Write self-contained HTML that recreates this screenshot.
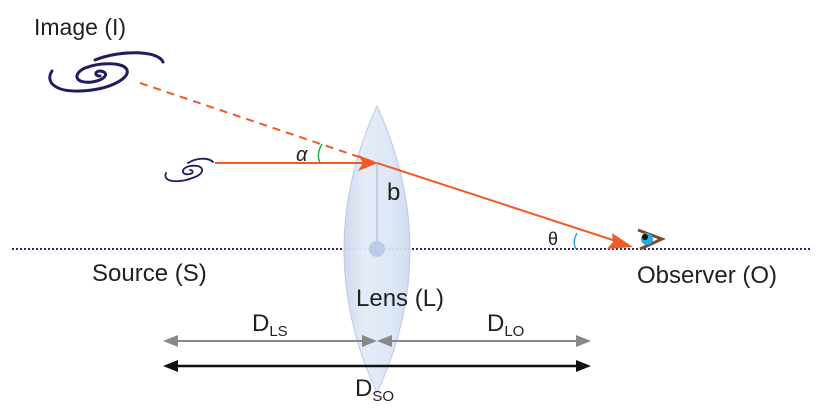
<!DOCTYPE html>
<html><head><meta charset="utf-8"><style>
html,body{margin:0;padding:0;background:#fff;}
svg{display:block}
text{font-family:"Liberation Sans",Arial,sans-serif;fill:#231f20}
</style></head><body>
<svg width="821" height="410" viewBox="0 0 821 410" xmlns="http://www.w3.org/2000/svg">
<defs>
<linearGradient id="lg" x1="0" x2="1" y1="0" y2="0">
<stop offset="0" stop-color="#cdd8ee"/><stop offset="0.3" stop-color="#e4ebf7"/><stop offset="0.7" stop-color="#dce6f6"/><stop offset="1" stop-color="#cfdcf0"/>
</linearGradient>
</defs>
<!-- axis -->
<line x1="12" y1="249" x2="810" y2="249" stroke="#2b2a6b" stroke-width="2" stroke-dasharray="2,2"/>
<!-- lens -->
<path d="M377,106 Q311,250 377,393 Q443,250 377,106Z" fill="url(#lg)" stroke="#b9c7e3" stroke-width="1" opacity="0.95"/>
<line x1="377" y1="164" x2="377" y2="248" stroke="#b5c2e0" stroke-width="1.5"/>
<circle cx="377" cy="249" r="8" fill="#bccbe8"/>
<!-- rays -->
<line x1="140" y1="83" x2="377" y2="163" stroke="#f15a29" stroke-width="2" stroke-dasharray="8,6"/>
<line x1="215" y1="163" x2="376" y2="163" stroke="#f15a29" stroke-width="2"/>
<path d="M358,155 L378,163 L358,171 L363,163z" fill="#f15a29"/>
<line x1="377" y1="163" x2="625" y2="244" stroke="#f15a29" stroke-width="2"/>
<path d="M612,233 L633,247 L607,249 L613,242z" fill="#f15a29"/>
<!-- angle arcs -->
<path d="M322,144 Q316,154 320,163" fill="none" stroke="#21b24b" stroke-width="1.5"/>
<path d="M577,233 Q572,242 576,249" fill="none" stroke="#29a9e0" stroke-width="1.5"/>
<!-- galaxies -->
<g fill="none" stroke="#1f1d5e" stroke-width="3" stroke-linecap="round">
<path d="M52,71 C45,82 55,92 80,91 C110,90 130,78 127,70 C124,62 100,62 85,68 C72,74 75,84 92,82 C106,80 110,72 100,71 C95,71 94,76 100,76"/>
<path d="M163,62 C158,50 120,50 95,60"/>
</g>
<g fill="none" stroke="#1f1d5e" stroke-width="1.8" stroke-linecap="round">
<path d="M166,173 C162,182 178,184 195,177 C207,172 203,164 190,166 C180,168 181,176 190,174 C194,173 193,170 190,170"/>
<path d="M213,162 C208,157 196,158 188,163"/>
</g>
<!-- eye -->
<path d="M638,230 L662,239 L640,249" fill="none" stroke="#7b4b2a" stroke-width="3"/>
<circle cx="647" cy="239" r="6" fill="#29a9e0"/><circle cx="645" cy="237" r="3" fill="#111"/>
<!-- distance arrows -->
<g stroke="#888" stroke-width="2"><line x1="170" y1="341" x2="372" y2="341"/><line x1="382" y1="341" x2="585" y2="341"/></g>
<g fill="#888"><path d="M163,341 L178,335 L178,347z"/><path d="M377,341 L362,335 L362,347z"/><path d="M377,341 L392,335 L392,347z"/><path d="M591,341 L576,335 L576,347z"/></g>
<line x1="170" y1="366" x2="583" y2="366" stroke="#111" stroke-width="2.5"/>
<path d="M163,366 L178,360 L178,372z" fill="#111"/><path d="M591,366 L576,360 L576,372z" fill="#111"/>
<!-- labels -->
<text x="34" y="35" font-size="23">Image (I)</text>
<text x="92" y="281" font-size="24">Source (S)</text>
<text x="637" y="283" font-size="24">Observer (O)</text>
<text x="356" y="306" font-size="24">Lens (L)</text>
<text x="387" y="200" font-size="24">b</text>
<text x="296" y="161" font-size="20" font-style="italic">α</text>
<text x="548" y="245" font-size="18">θ</text>
<text x="252" y="331" font-size="24">D<tspan font-size="15" dy="5">LS</tspan></text>
<text x="487" y="331" font-size="24">D<tspan font-size="15" dy="5">LO</tspan></text>
<text x="355" y="396" font-size="24">D<tspan font-size="15" dy="5">SO</tspan></text>
</svg>
</body></html>
